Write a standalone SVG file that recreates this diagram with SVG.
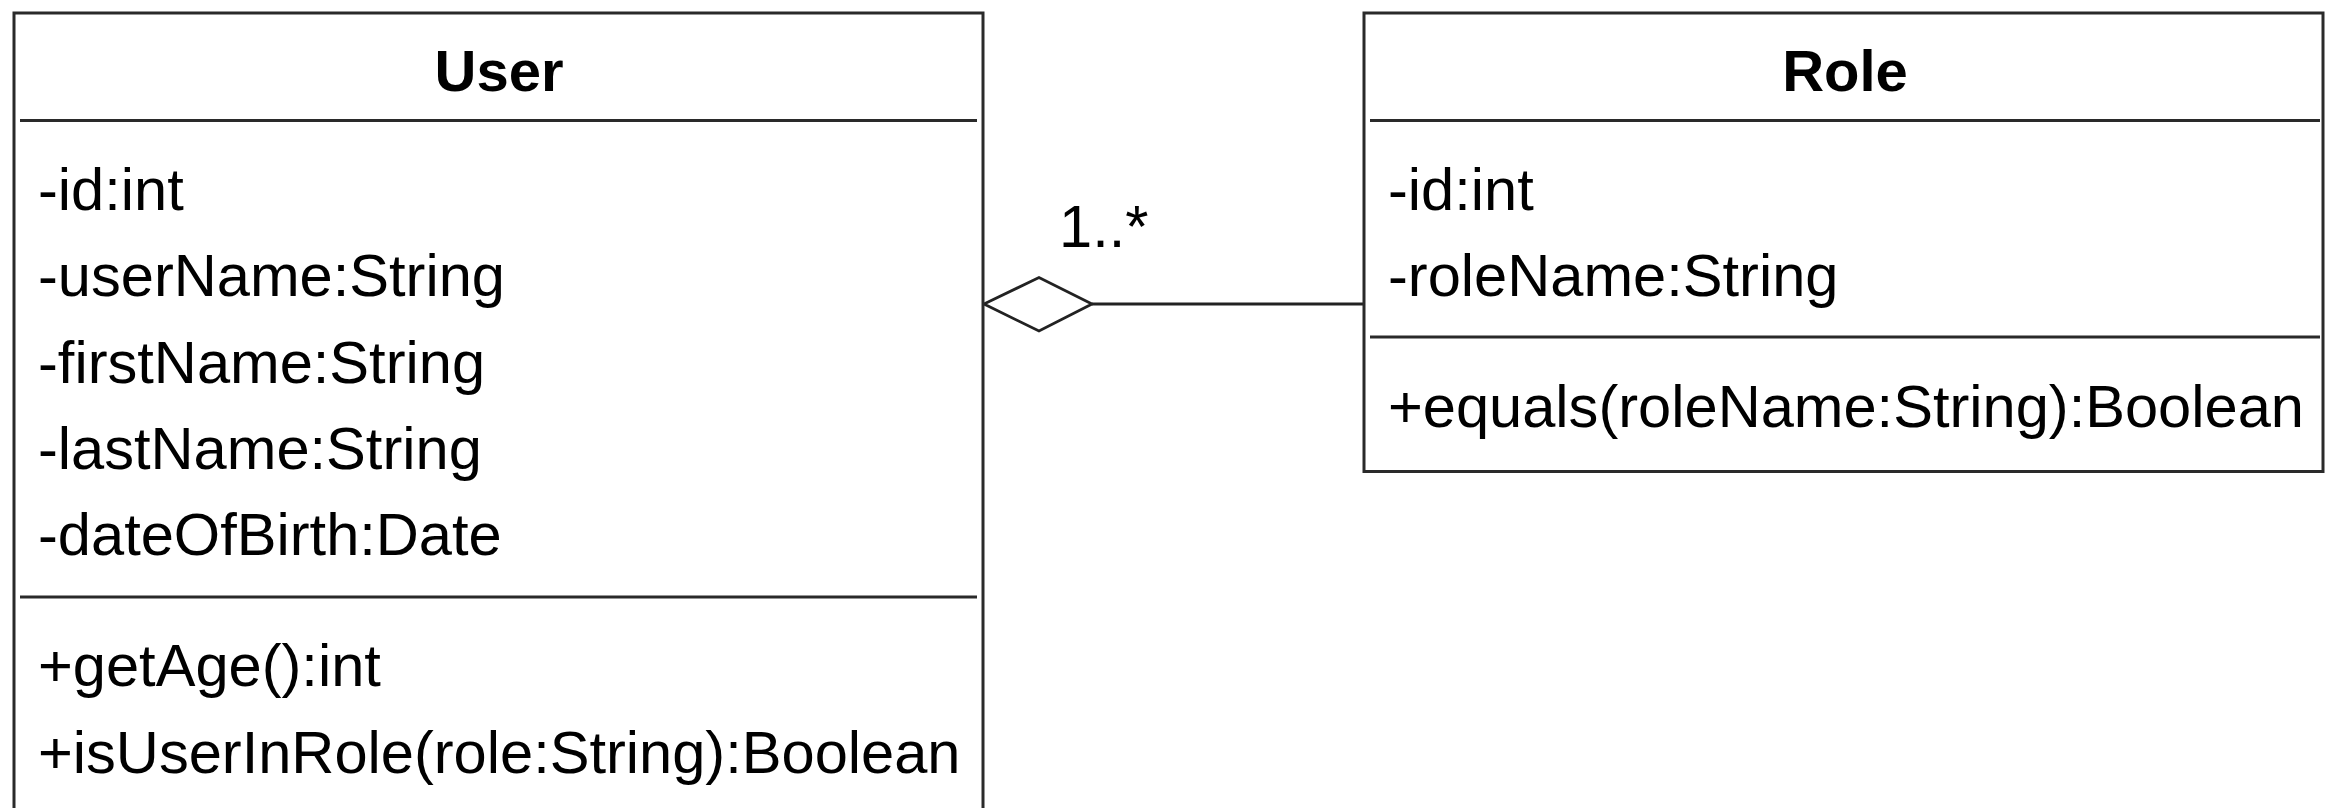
<svg xmlns="http://www.w3.org/2000/svg" width="2325" height="808" viewBox="0 0 2325 808">
<style>
.box{fill:#fff;stroke:#2a2a2a;stroke-width:3}
.div{stroke:#2a2a2a;stroke-width:3}
.t{font-family:"Liberation Sans",Arial,sans-serif;font-size:59.6px;fill:#000}
.h{font-family:"Liberation Sans",Arial,sans-serif;font-size:58px;font-weight:bold;fill:#000;text-anchor:middle}
.conn{stroke:#222;stroke-width:2.8;fill:none}
</style>
<rect width="2325" height="808" fill="#fff"/>
<g id="connectors">
<line class="conn" x1="1092" y1="304" x2="1364" y2="304"/>
<polygon class="conn" fill="#fff" points="984,304 1039,277.5 1092,304 1039,331"/>
<text class="t" x="1059" y="247">1..*</text>
</g>
<g id="User">
<rect class="box" x="14" y="13" width="969" height="820"/>
<line class="div" x1="20" y1="120.5" x2="977" y2="120.5"/>
<line class="div" x1="20" y1="597" x2="977" y2="597"/>
<text class="h" x="499" y="91">User</text>
<text class="t" x="38" y="210">-id:int</text>
<text class="t" x="38" y="296">-userName:String</text>
<text class="t" x="38" y="383">-firstName:String</text>
<text class="t" x="38" y="469">-lastName:String</text>
<text class="t" x="38" y="555">-dateOfBirth:Date</text>
<text class="t" x="38" y="686">+getAge():int</text>
<text class="t" x="38" y="773">+isUserInRole(role:String):Boolean</text>
</g>
<g id="Role">
<rect class="box" x="1364" y="13" width="959" height="458.5"/>
<line class="div" x1="1370" y1="120.5" x2="2320" y2="120.5"/>
<line class="div" x1="1370" y1="337" x2="2320" y2="337"/>
<text class="h" x="1845" y="91">Role</text>
<text class="t" x="1388" y="210">-id:int</text>
<text class="t" x="1388" y="296">-roleName:String</text>
<text class="t" x="1388" y="427">+equals(roleName:String):Boolean</text>
</g>
</svg>
